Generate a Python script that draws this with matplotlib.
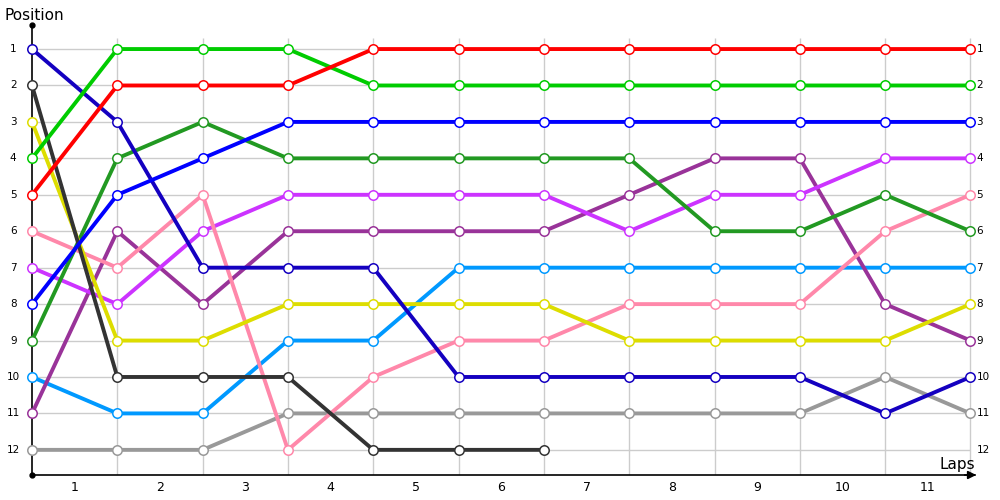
import matplotlib
matplotlib.use("Agg")
import matplotlib.pyplot as plt

laps = list(range(12))
lap_labels = [str(i) for i in range(1, 12)]
positions = list(range(1, 13))

series_colors = ["#999999", "#0099FF", "#993399", "#CC33FF", "#FF88AA", "#229922",
                 "#DDDD00", "#333333", "#1400C0", "#0000FF", "#00CC00", "#FF0000"]
gray = [12, 12, 12, 11, 11, 11, 11, 11, 11, 11, 10, 11]
lightblue = [10, 11, 11, 9, 9, 7, 7, 7, 7, 7, 7, 7]
purple = [11, 6, 8, 6, 6, 6, 6, 5, 4, 4, 8, 9]
magenta = [7, 8, 6, 5, 5, 5, 5, 6, 5, 5, 4, 4]
pink = [6, 7, 5, 12, 10, 9, 9, 8, 8, 8, 6, 5]
darkgreen = [9, 4, 3, 4, 4, 4, 4, 4, 6, 6, 5, 6]
yellow = [3, 9, 9, 8, 8, 8, 8, 9, 9, 9, 9, 8]
black = [2, 10, 10, 10, 12, 12, 12]
navy = [1, 3, 7, 7, 7, 10, 10, 10, 10, 10, 11, 10]
blue = [8, 5, 4, 3, 3, 3, 3, 3, 3, 3, 3, 3]
green = [4, 1, 1, 1, 2, 2, 2, 2, 2, 2, 2, 2]
red = [5, 2, 2, 2, 1, 1, 1, 1, 1, 1, 1, 1]
all_series = [gray, lightblue, purple, magenta, pink, darkgreen, yellow, black,
              navy, blue, green, red]

plt.rcParams['font.family'] = ['DejaVu Sans']
fig = plt.figure(figsize=(10, 5), dpi=100)
ax = fig.add_axes([0.032, 0.05, 0.947, 0.9])
xmin, xmax = 0, 11.1
ymin, ymax = 0.34, 12.69
ax.set_xlim(xmin, xmax)
ax.set_ylim(ymax, ymin)
for s in ax.spines.values():
    s.set_visible(False)
ax.set_xticks([])
ax.set_yticks([])

# grid
ax.hlines(positions, 0, laps[-1], color="#cccccc", lw=1, zorder=1)
ax.vlines(laps[1:], 0.7, ymax, color="#cccccc", lw=1, zorder=1)

# axes lines
ax.plot([0, 0], [ymin, ymax], color="black", lw=1.2, zorder=2, clip_on=False)
ax.plot([0, xmax - 0.05], [ymax, ymax], color="black", lw=1.2, zorder=2, clip_on=False)
ax.plot([0], [ymin], marker="o", ms=3.5, color="black", clip_on=False, zorder=3)
ax.plot([0], [ymax], marker="o", ms=3.5, color="black", clip_on=False, zorder=3)
ax.annotate("", xy=(xmax, ymax), xytext=(xmax - 0.2, ymax),
            arrowprops=dict(arrowstyle="-|>", color="black", lw=1.2,
                            mutation_scale=12), annotation_clip=False)

for vals, col in zip(all_series, series_colors):
    ax.plot(laps[:len(vals)], vals, color=col, lw=2.8, zorder=4,
            marker="o", ms=6.8, mfc="white", mec=col, mew=1.1,
            solid_joinstyle="round", clip_on=False)

# tick labels
for p in positions:
    ax.text(-0.22, p, str(p), ha="center", va="center", fontsize=7.5)
    ax.text(laps[-1] + 0.07, p, str(p), ha="left", va="center", fontsize=7.5)
for i, lab in enumerate(lap_labels):
    ax.text(i + 0.5, ymax + 0.33, lab, ha="center", va="center", fontsize=9)

fig.text(0.005, 0.968, "Position", ha="left", va="center", fontsize=11)
fig.text(0.975, 0.072, "Laps", ha="right", va="center", fontsize=11)

fig.savefig("out.png", dpi=100)
